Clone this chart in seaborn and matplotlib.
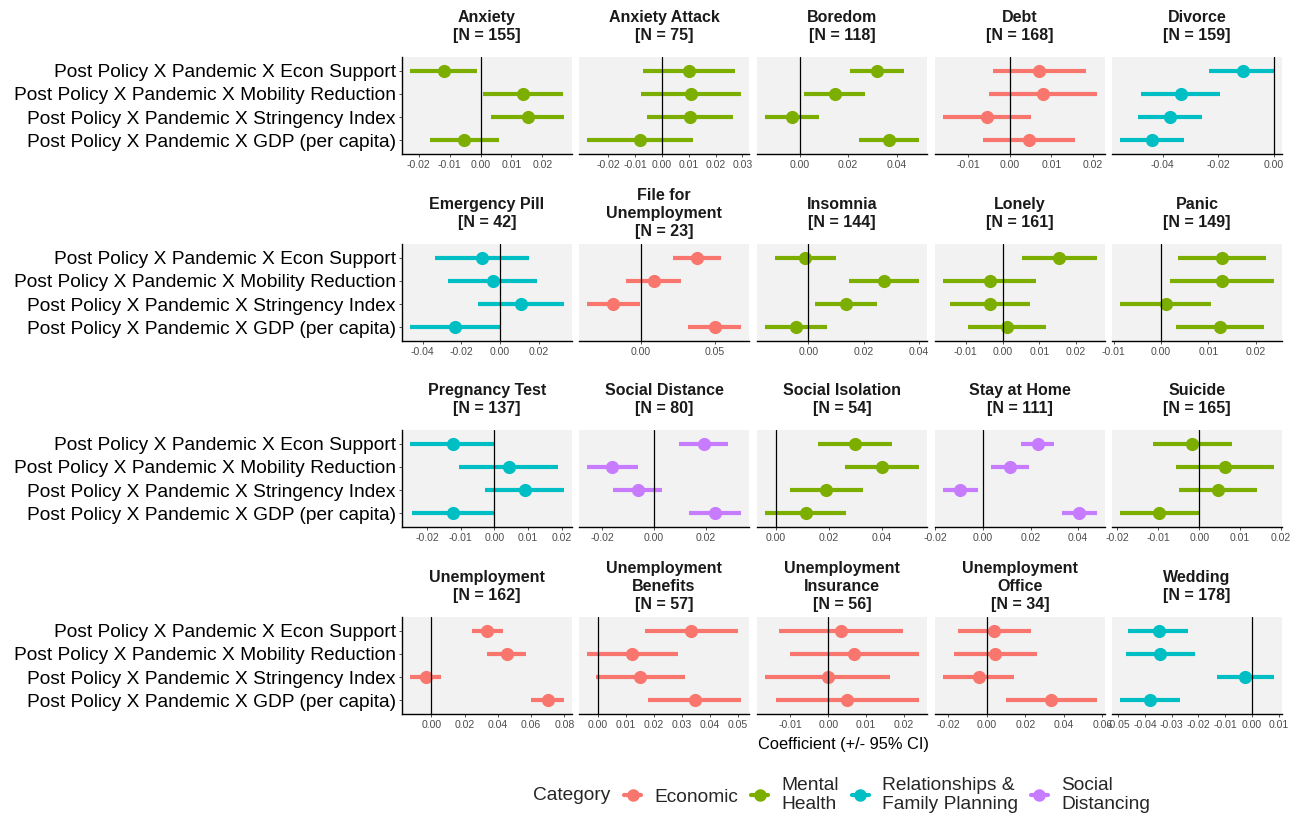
import textwrap
import numpy as np
import pandas as pd
import matplotlib
matplotlib.use("Agg")
import matplotlib.pyplot as plt
import seaborn as sns
from matplotlib.lines import Line2D

# --- data ---
terms = ["Post Policy X Pandemic X Econ Support",
         "Post Policy X Pandemic X Mobility Reduction",
         "Post Policy X Pandemic X Stringency Index",
         "Post Policy X Pandemic X GDP (per capita)"]

outcomes = ["Anxiety", "Anxiety Attack", "Boredom", "Debt", "Divorce",
            "Emergency Pill", "File for Unemployment", "Insomnia", "Lonely", "Panic",
            "Pregnancy Test", "Social Distance", "Social Isolation", "Stay at Home", "Suicide",
            "Unemployment", "Unemployment Benefits", "Unemployment Insurance",
            "Unemployment Office", "Wedding"]

n_obs = [155, 75, 118, 168, 159, 42, 23, 144, 161, 149,
         137, 80, 54, 111, 165, 162, 57, 56, 34, 178]

outcome_cat = ["Mental Health", "Mental Health", "Mental Health", "Economic",
               "Relationships & Family Planning",
               "Relationships & Family Planning", "Economic", "Mental Health",
               "Mental Health", "Mental Health",
               "Relationships & Family Planning", "Social Distancing", "Mental Health",
               "Social Distancing", "Mental Health",
               "Economic", "Economic", "Economic", "Economic",
               "Relationships & Family Planning"]

# one row per outcome: Econ Support, Mobility Reduction, Stringency Index, GDP
coef = [[-0.0118, 0.0138, 0.0154, -0.0052],
        [0.0101, 0.0109, 0.0104, -0.0083],
        [0.0318, 0.0146, -0.0032, 0.0370],
        [0.0070, 0.0080, -0.0054, 0.0046],
        [-0.0112, -0.0335, -0.0373, -0.0439],
        [-0.0093, -0.0038, 0.0110, -0.0234],
        [0.0382, 0.0088, -0.0190, 0.0500],
        [-0.0011, 0.0273, 0.0136, -0.0043],
        [0.0155, -0.0035, -0.0033, 0.0013],
        [0.0129, 0.0129, 0.0010, 0.0125],
        [-0.0124, 0.0042, 0.0090, -0.0122],
        [0.0194, -0.0163, -0.0062, 0.0235],
        [0.0297, 0.0400, 0.0190, 0.0111],
        [0.0229, 0.0115, -0.0095, 0.0404],
        [-0.0018, 0.0062, 0.0045, -0.0097],
        [0.0336, 0.0456, -0.0034, 0.0700],
        [0.0333, 0.0121, 0.0152, 0.0345],
        [0.0033, 0.0068, -0.0002, 0.0050],
        [0.0038, 0.0041, -0.0043, 0.0333],
        [-0.0348, -0.0343, -0.0024, -0.0383]]

ci_low = [[-0.0229, 0.0009, 0.0035, -0.0163],
          [-0.0070, -0.0077, -0.0056, -0.0280],
          [0.0208, 0.0019, -0.0144, 0.0245],
          [-0.0040, -0.0050, -0.0161, -0.0065],
          [-0.0233, -0.0478, -0.0487, -0.0554],
          [-0.0338, -0.0269, -0.0114, -0.0467],
          [0.0217, -0.0102, -0.0369, 0.0319],
          [-0.0119, 0.0147, 0.0023, -0.0157],
          [0.0052, -0.0163, -0.0143, -0.0093],
          [0.0036, 0.0020, -0.0087, 0.0032],
          [-0.0251, -0.0106, -0.0029, -0.0245],
          [0.0095, -0.0261, -0.0161, 0.0135],
          [0.0157, 0.0259, 0.0053, -0.0043],
          [0.0159, 0.0034, -0.0169, 0.0333],
          [-0.0113, -0.0057, -0.0049, -0.0194],
          [0.0242, 0.0336, -0.0130, 0.0602],
          [0.0169, -0.0040, -0.0007, 0.0179],
          [-0.0131, -0.0102, -0.0168, -0.0137],
          [-0.0150, -0.0172, -0.0229, 0.0098],
          [-0.0463, -0.0470, -0.0131, -0.0495]]

ci_high = [[-0.0011, 0.0266, 0.0271, 0.0059],
           [0.0271, 0.0296, 0.0266, 0.0116],
           [0.0432, 0.0270, 0.0081, 0.0494],
           [0.0182, 0.0210, 0.0052, 0.0157],
           [0.0002, -0.0193, -0.0259, -0.0322],
           [0.0148, 0.0191, 0.0331, -0.0003],
           [0.0545, 0.0274, -0.0005, 0.0681],
           [0.0100, 0.0401, 0.0249, 0.0069],
           [0.0258, 0.0090, 0.0075, 0.0119],
           [0.0222, 0.0239, 0.0105, 0.0217],
           [0.0000, 0.0187, 0.0207, 0.0000],
           [0.0286, -0.0062, 0.0032, 0.0337],
           [0.0438, 0.0540, 0.0327, 0.0265],
           [0.0298, 0.0194, -0.0021, 0.0480],
           [0.0079, 0.0183, 0.0140, 0.0000],
           [0.0432, 0.0570, 0.0058, 0.0800],
           [0.0500, 0.0286, 0.0312, 0.0512],
           [0.0198, 0.0240, 0.0163, 0.0238],
           [0.0228, 0.0259, 0.0143, 0.0574],
           [-0.0238, -0.0213, 0.0084, -0.0270]]

# x-axis breaks shown in each panel
x_breaks = [[-0.02, -0.01, 0.0, 0.01, 0.02],
            [-0.02, -0.01, 0.0, 0.01, 0.02, 0.03],
            [0.0, 0.02, 0.04],
            [-0.01, 0.0, 0.01, 0.02],
            [-0.04, -0.02, 0.0],
            [-0.04, -0.02, 0.0, 0.02],
            [0.0, 0.05],
            [0.0, 0.02, 0.04],
            [-0.01, 0.0, 0.01, 0.02],
            [-0.01, 0.0, 0.01, 0.02],
            [-0.02, -0.01, 0.0, 0.01, 0.02],
            [-0.02, 0.0, 0.02],
            [0.0, 0.02, 0.04],
            [-0.02, 0.0, 0.02, 0.04],
            [-0.02, -0.01, 0.0, 0.01, 0.02],
            [0.0, 0.02, 0.04, 0.06, 0.08],
            [0.0, 0.01, 0.02, 0.03, 0.04, 0.05],
            [-0.01, 0.0, 0.01, 0.02],
            [-0.02, 0.0, 0.02, 0.04, 0.06],
            [-0.05, -0.04, -0.03, -0.02, -0.01, 0.0, 0.01]]

cat_order = ["Economic", "Mental Health", "Relationships & Family Planning", "Social Distancing"]
cat_labels = ["Economic", "Mental\nHealth", "Relationships &\nFamily Planning", "Social\nDistancing"]
palette = dict(zip(cat_order, ["#F8766D", "#7CAE00", "#00BFC4", "#C77CFF"]))

rows = []
for i, o in enumerate(outcomes):
    for j, t in enumerate(terms):
        rows.append(dict(outcome=o, category=outcome_cat[i], term=t, y=j,
                         coef=coef[i][j], lo=ci_low[i][j], hi=ci_high[i][j]))
df = pd.DataFrame(rows)

# --- figure ---
sns.set_style("white")
plt.rcParams['font.family'] = ['Liberation Sans', 'DejaVu Sans']
plt.rcParams['axes.unicode_minus'] = False

W, H = 1304, 817
fig = plt.figure(figsize=(W / 100, H / 100), dpi=100)

lefts = [402, 579, 757, 935, 1112]
tops = [57, 244, 430, 617]
pw, ph = 170, 97

for k, name in enumerate(outcomes):
    r, c = divmod(k, 5)
    ax = fig.add_axes([lefts[c] / W, 1 - (tops[r] + ph) / H, pw / W, ph / H])
    ax.set_facecolor("#F2F2F2")
    sub = df[df.outcome == name]
    col = palette[outcome_cat[k]]

    ax.hlines(sub.y, sub.lo, sub.hi, color=col, lw=3.0, zorder=2)
    sns.scatterplot(data=sub, x="coef", y="y", color=col, s=90, linewidth=0,
                    ax=ax, zorder=3, legend=False)
    ax.axvline(0, color="black", lw=0.9, zorder=4)

    lo = min(sub.lo.min(), 0)
    hi = max(sub.hi.max(), 0)
    pad = 0.05 * (hi - lo)
    ax.set_xlim(lo - pad, hi + pad)
    ax.set_ylim(3.6, -0.6)
    ax.set_xticks(x_breaks[k])
    ax.set_xticklabels([f"{v:.2f}" for v in x_breaks[k]])
    ax.tick_params(axis="x", labelsize=7.6, labelcolor="#4D4D4D", color="#333333",
                   length=2.5, width=0.6, pad=2, bottom=True)
    ax.set_xlabel("")
    ax.set_ylabel("")
    for s in ["top", "right"]:
        ax.spines[s].set_visible(False)
    ax.spines["bottom"].set_color("black")
    ax.spines["bottom"].set_linewidth(1.0)
    if c == 0:
        ax.spines["left"].set_color("black")
        ax.spines["left"].set_linewidth(1.0)
        ax.set_yticks(range(len(terms)))
        ax.set_yticklabels(terms)
        ax.tick_params(axis="y", labelsize=13.8, labelcolor="black", color="#333333",
                       length=2.5, width=0.6, pad=2, left=True)
    else:
        ax.spines["left"].set_visible(False)
        ax.set_yticks([])

    # strip text is centred vertically in the strip above each panel
    title = textwrap.fill(name, 18) + f"\n[N = {n_obs[k]}]"
    ax.annotate(title, xy=(0.5, 1), xycoords="axes fraction", xytext=(0, 22),
                textcoords="offset points", ha="center", va="center",
                fontsize=11.5, fontweight="bold", color="#1A1A1A", linespacing=1.25)

fig.text(843 / W, 1 - 745 / H, "Coefficient (+/- 95% CI)", ha="center", va="center",
         fontsize=11.8, color="black")

fig.text(533 / W, 1 - 795 / H, "Category", ha="left", va="center", fontsize=13.8)
handles = [Line2D([], [], color=palette[cname], marker="o", markersize=8, lw=3)
           for cname in cat_order]
fig.legend(handles, cat_labels, loc="center left", bbox_to_anchor=(624 / W, 1 - 795 / H),
           ncol=4, frameon=False, fontsize=13.8, handlelength=0.9, handletextpad=0.7,
           columnspacing=0.65, borderaxespad=0, borderpad=0)

fig.savefig("out.png", dpi=100)
